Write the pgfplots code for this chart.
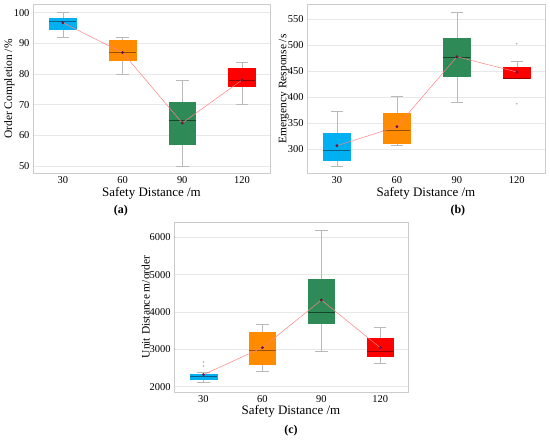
\documentclass[border=0pt]{standalone}
\usepackage{pgfplots}
\pgfplotsset{compat=1.18}
\usepackage{fontspec}
\setmainfont{Liberation Serif}
\definecolor{cB}{RGB}{0,176,240}
\definecolor{cBd}{RGB}{10,95,140}
\definecolor{cO}{RGB}{255,140,0}
\definecolor{cOd}{RGB}{150,80,0}
\definecolor{cG}{RGB}{46,139,87}
\definecolor{cGd}{RGB}{20,70,42}
\definecolor{cR}{RGB}{255,0,0}
\definecolor{cRd}{RGB}{150,0,0}
\definecolor{meanline}{RGB}{255,130,130}
\definecolor{meanc}{RGB}{110,20,70}
% #1 position, #2 lower whisker, #3 lower quartile, #4 median, #5 upper quartile, #6 upper whisker, #7 fill, #8 median colour
\newcommand{\bx}[8]{%
\pgfmathsetmacro\xl{#1-0.225}\pgfmathsetmacro\xr{#1+0.225}%
\pgfmathsetmacro\wl{#1-0.105}\pgfmathsetmacro\wr{#1+0.105}%
\addplot[draw=gray!55, line width=0.5pt] coordinates {(#1,#2) (#1,#6)};
\addplot[draw=gray!55, line width=0.5pt] coordinates {(\wl,#2) (\wr,#2)};
\addplot[draw=gray!55, line width=0.5pt] coordinates {(\wl,#6) (\wr,#6)};
\addplot[fill=#7, draw=#7, line width=0.4pt] coordinates {(\xl,#3) (\xr,#3) (\xr,#5) (\xl,#5)} -- cycle;
\addplot[draw=#8, line width=0.7pt] coordinates {(\xl,#4) (\xr,#4)};
}
\pgfplotsset{panel/.style={scale only axis, xmin=-0.5, xmax=3.47,
  xtick={0,1,2,3}, xticklabels={30,60,90,120}, major tick length=0,
  axis line style={draw=gray!40}, ymajorgrids, grid style={draw=gray!18, line width=0.5pt},
  tick label style={font=\fontsize{10.5}{12}\selectfont},
  /pgf/number format/assume math mode=true, /pgf/number format/1000 sep={},
  scaled y ticks=false, clip=false,
  xlabel={Safety Distance /m},
  xlabel style={font=\fontsize{13}{15}\selectfont, at={(axis description cs:0.5,-0.117)}, anchor=center},
  ylabel style={font=\fontsize{11.5}{13}\selectfont, anchor=center},
  meanplot/.style={color=meanline, line width=0.5pt, mark=*, mark size=1.2pt, mark options={fill=meanc, draw=meanc}}
}}
\begin{document}
\begin{tikzpicture}
\useasboundingbox (0,0) rectangle (550bp,440bp);
% (a)
\begin{axis}[panel, at={(33bp,266.7bp)}, anchor=south west, width=237bp, height=168.6bp,
  ymin=47.6, ymax=102.6, ytick={50,60,70,80,90,100},
  ylabel={Order Completion /\%}, ylabel style={at={(axis description cs:-0.1,0.5)}}]
\bx{0}{92}{94.6}{97.2}{98.1}{100}{cB}{cBd}
\bx{1}{80}{84.6}{87.1}{91.1}{92}{cO}{cOd}
\bx{2}{50}{57}{64.9}{70.8}{77.8}{cG}{cGd}
\bx{3}{70}{76}{78}{81.9}{83.9}{cR}{cRd}
\addplot[meanplot] coordinates {(0,96.7) (1,87) (2,64) (3,78)};
\node[font=\bfseries\fontsize{12}{14}\selectfont] at (axis description cs:0.371,-0.224) {(a)};
\end{axis}
% (b)
\begin{axis}[panel, at={(307bp,266.7bp)}, anchor=south west, width=238bp, height=168.6bp,
  ymin=254, ymax=578, ytick={300,350,400,450,500,550},
  ylabel={Emergency Response /s}, ylabel style={at={(axis description cs:-0.097,0.5)}}]
\bx{0}{268}{280}{298}{331}{374}{cB}{cBd}
\bx{1}{307}{311}{336}{368.6}{402}{cO}{cOd}
\bx{2}{391}{441}{476}{513.5}{563.5}{cG}{cGd}
\bx{3}{435.8}{435.8}{436.5}{457.7}{469.8}{cR}{cRd}
\addplot[only marks, mark=*, mark size=0.6pt, color=gray!60] coordinates {(3,503) (3,387.7)};
\addplot[meanplot] coordinates {(0,307) (1,343.6) (2,478) (3,448.7)};
\node[font=\bfseries\fontsize{12}{14}\selectfont] at (axis description cs:0.634,-0.224) {(b)};
\end{axis}
% (c)
\begin{axis}[panel, at={(174bp,48.3bp)}, anchor=south west, width=234bp, height=169.4bp,
  ymin=1866, ymax=6402, ytick={2000,3000,4000,5000,6000},
  ylabel={Unit Distance m/order}, ylabel style={at={(axis description cs:-0.121,0.5)}}]
\bx{0}{2107}{2196}{2287}{2340}{2400}{cB}{cBd}
\bx{1}{2402}{2598}{2982}{3446}{3670}{cO}{cOd}
\bx{2}{2946}{3696}{3991}{4884}{6196}{cG}{cGd}
\bx{3}{2616}{2821}{2955}{3295}{3580}{cR}{cRd}
\addplot[only marks, mark=*, mark size=0.6pt, color=gray!60] coordinates {(0,2554) (0,2661)};
\addplot[meanplot] coordinates {(0,2322) (1,3045) (2,4321) (3,3045)};
\node[font=\bfseries\fontsize{12}{14}\selectfont] at (axis description cs:0.5,-0.228) {(c)};
\end{axis}
\end{tikzpicture}
\end{document}
